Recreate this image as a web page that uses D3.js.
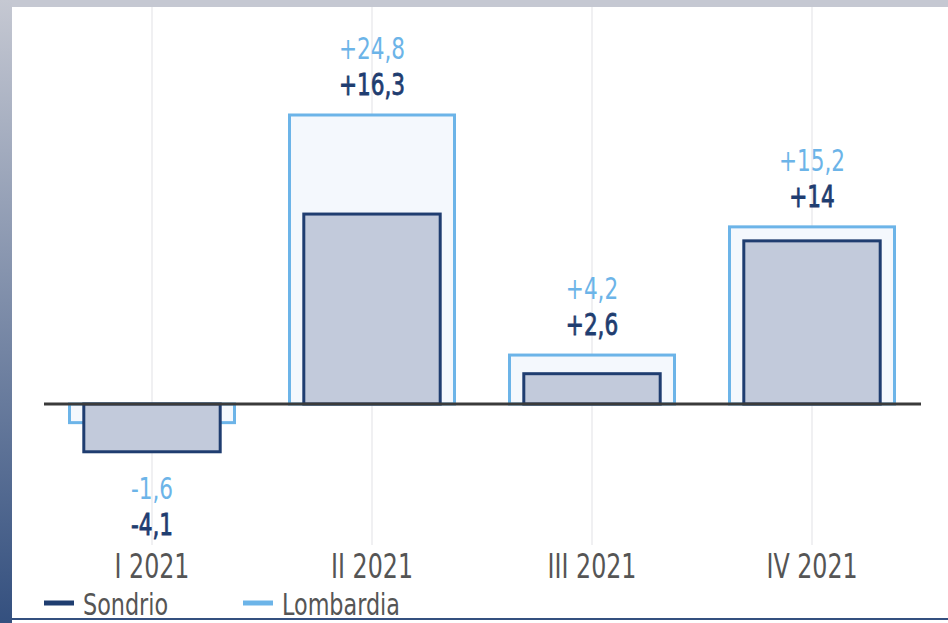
<!DOCTYPE html>
<html>
<head>
<meta charset="utf-8">
<script src="https://cdn.jsdelivr.net/npm/d3@7"></script>
<style>
    html, body { margin: 0; padding: 0; background: #fff; }
    svg text { font-family: "DejaVu Sans Condensed", "Liberation Sans Narrow", "Open Sans", sans-serif; font-stretch: condensed; }
</style>
</head>
<body>
<div id="chart"></div>
<script>
    "use strict";

    ////////////////////////////////////////
    // data
    ////////////////////////////////////////

    var quarters = ["I 2021", "II 2021", "III 2021", "IV 2021"],
        sondrio = [-4.1, 16.3, 2.6, 14],
        lombardia = [-1.6, 24.8, 4.2, 15.2],
        seriesNames = ["Sondrio", "Lombardia"],

        W = 948, H = 623,
        SX = 0.8,   // squeeze text to look like the narrow original face
        col = {sondrio: "#1f3d70", sondrioFill: "#c2cadb",
               lomb: "#6cb4e8", lombFill: "#f4f8fd",
               txt: "#555555"},

        fmt = function (v) {
            var s = String(v).replace(".", ",");
            return v > 0 ? "+" + s : s;
        },

        narrowText = function (sel, tx, ty) {
            return sel.attr("x", 0).attr("y", 0)
                .attr("transform", "translate(" + tx + "," + ty + ") scale(" + SX + ",1)");
        },

        svg = d3.select("#chart").append("svg")
            .attr("width", W).attr("height", H),

        x = d3.scaleBand().domain(quarters).range([42, 922]),
        y = d3.scaleLinear().domain([0, 24.8]).range([404, 115]),
        defs, grad, g;

    ////////////////////////////////////////
    // frame
    ////////////////////////////////////////

    defs = svg.append("defs");
    grad = defs.append("linearGradient").attr("id", "leftg")
        .attr("x1", 0).attr("y1", 0).attr("x2", 0).attr("y2", 1);
    grad.append("stop").attr("offset", "0%").attr("stop-color", "#c5c8d2");
    grad.append("stop").attr("offset", "100%").attr("stop-color", "#34507f");

    svg.append("rect").attr("x", 0).attr("y", 0).attr("width", W).attr("height", 7)
        .attr("fill", "#c5c8d2");
    svg.append("rect").attr("x", 0).attr("y", 0).attr("width", 12).attr("height", H)
        .attr("fill", "url(#leftg)");
    svg.append("rect").attr("x", 12).attr("y", 618).attr("width", W - 12).attr("height", 2)
        .attr("fill", "#34507f");

    ////////////////////////////////////////
    // grid
    ////////////////////////////////////////

    svg.append("g").selectAll("line").data(quarters).join("line")
        .attr("x1", function (d) { return x(d) + x.bandwidth() / 2; })
        .attr("x2", function (d) { return x(d) + x.bandwidth() / 2; })
        .attr("y1", 7).attr("y2", 545)
        .attr("stroke", "#f0f0f2").attr("stroke-width", 2);

    ////////////////////////////////////////
    // bars
    ////////////////////////////////////////

    g = svg.append("g");
    var lw = x.bandwidth() * 0.75, sw = x.bandwidth() * 0.62;

    g.selectAll("rect.lomb").data(lombardia).join("rect").attr("class", "lomb")
        .attr("x", function (d, i) { return x(quarters[i]) + (x.bandwidth() - lw) / 2; })
        .attr("width", lw)
        .attr("y", function (d) { return Math.min(y(d), y(0)); })
        .attr("height", function (d) { return Math.abs(y(d) - y(0)); })
        .attr("fill", col.lombFill).attr("stroke", col.lomb).attr("stroke-width", 3);

    g.selectAll("rect.sond").data(sondrio).join("rect").attr("class", "sond")
        .attr("x", function (d, i) { return x(quarters[i]) + (x.bandwidth() - sw) / 2; })
        .attr("width", sw)
        .attr("y", function (d) { return Math.min(y(d), y(0)); })
        .attr("height", function (d) { return Math.abs(y(d) - y(0)); })
        .attr("fill", col.sondrioFill).attr("stroke", col.sondrio).attr("stroke-width", 3);

    // zero line
    svg.append("line").attr("x1", 44).attr("x2", 921)
        .attr("y1", y(0)).attr("y2", y(0))
        .attr("stroke", "#3a3a3a").attr("stroke-width", 3);

    ////////////////////////////////////////
    // value labels
    ////////////////////////////////////////

    quarters.forEach(function (q, i) {
        var cx = x(q) + x.bandwidth() / 2, top, bot, ls, ll;
        if (sondrio[i] >= 0) {
            top = y(Math.max(sondrio[i], lombardia[i]));
            ls = top - 20;
            ll = top - 56;
        } else {
            bot = y(Math.min(sondrio[i], lombardia[i]));
            ll = bot + 47;
            ls = bot + 83;
        }
        narrowText(svg.append("text"), cx, ll)
            .attr("text-anchor", "middle").attr("font-size", 30)
            .attr("fill", col.lomb).text(fmt(lombardia[i]));
        narrowText(svg.append("text"), cx, ls)
            .attr("text-anchor", "middle").attr("font-size", 30)
            .attr("stroke", col.sondrio).attr("stroke-width", 0.8)
            .attr("fill", col.sondrio).text(fmt(sondrio[i]));
    });

    ////////////////////////////////////////
    // axis labels
    ////////////////////////////////////////

    svg.append("g").attr("transform", "translate(0,578)")
        .call(d3.axisBottom(x).tickSize(0).tickPadding(0))
        .call(function (a) {
            a.select(".domain").remove();
            a.selectAll("text").attr("dy", 0).attr("y", 0)
                .attr("transform", "scale(" + SX + ",1)")
                .attr("font-size", 33).attr("fill", col.txt);
        });

    ////////////////////////////////////////
    // legend
    ////////////////////////////////////////

    var leg = svg.append("g").selectAll("g").data(seriesNames).join("g")
        .attr("transform", function (d, i) { return "translate(" + (44 + i * 199) + ",603)"; });
    leg.append("line").attr("x1", 0).attr("x2", 30).attr("y1", 0).attr("y2", 0)
        .attr("stroke-width", 5)
        .attr("stroke", function (d, i) { return i === 0 ? col.sondrio : col.lomb; });
    leg.each(function () {
        narrowText(d3.select(this).append("text"), 39, 12);
    });
    leg.select("text")
        .attr("font-size", 31).attr("fill", col.txt)
        .text(function (d) { return d; });
</script>
</body>
</html>
